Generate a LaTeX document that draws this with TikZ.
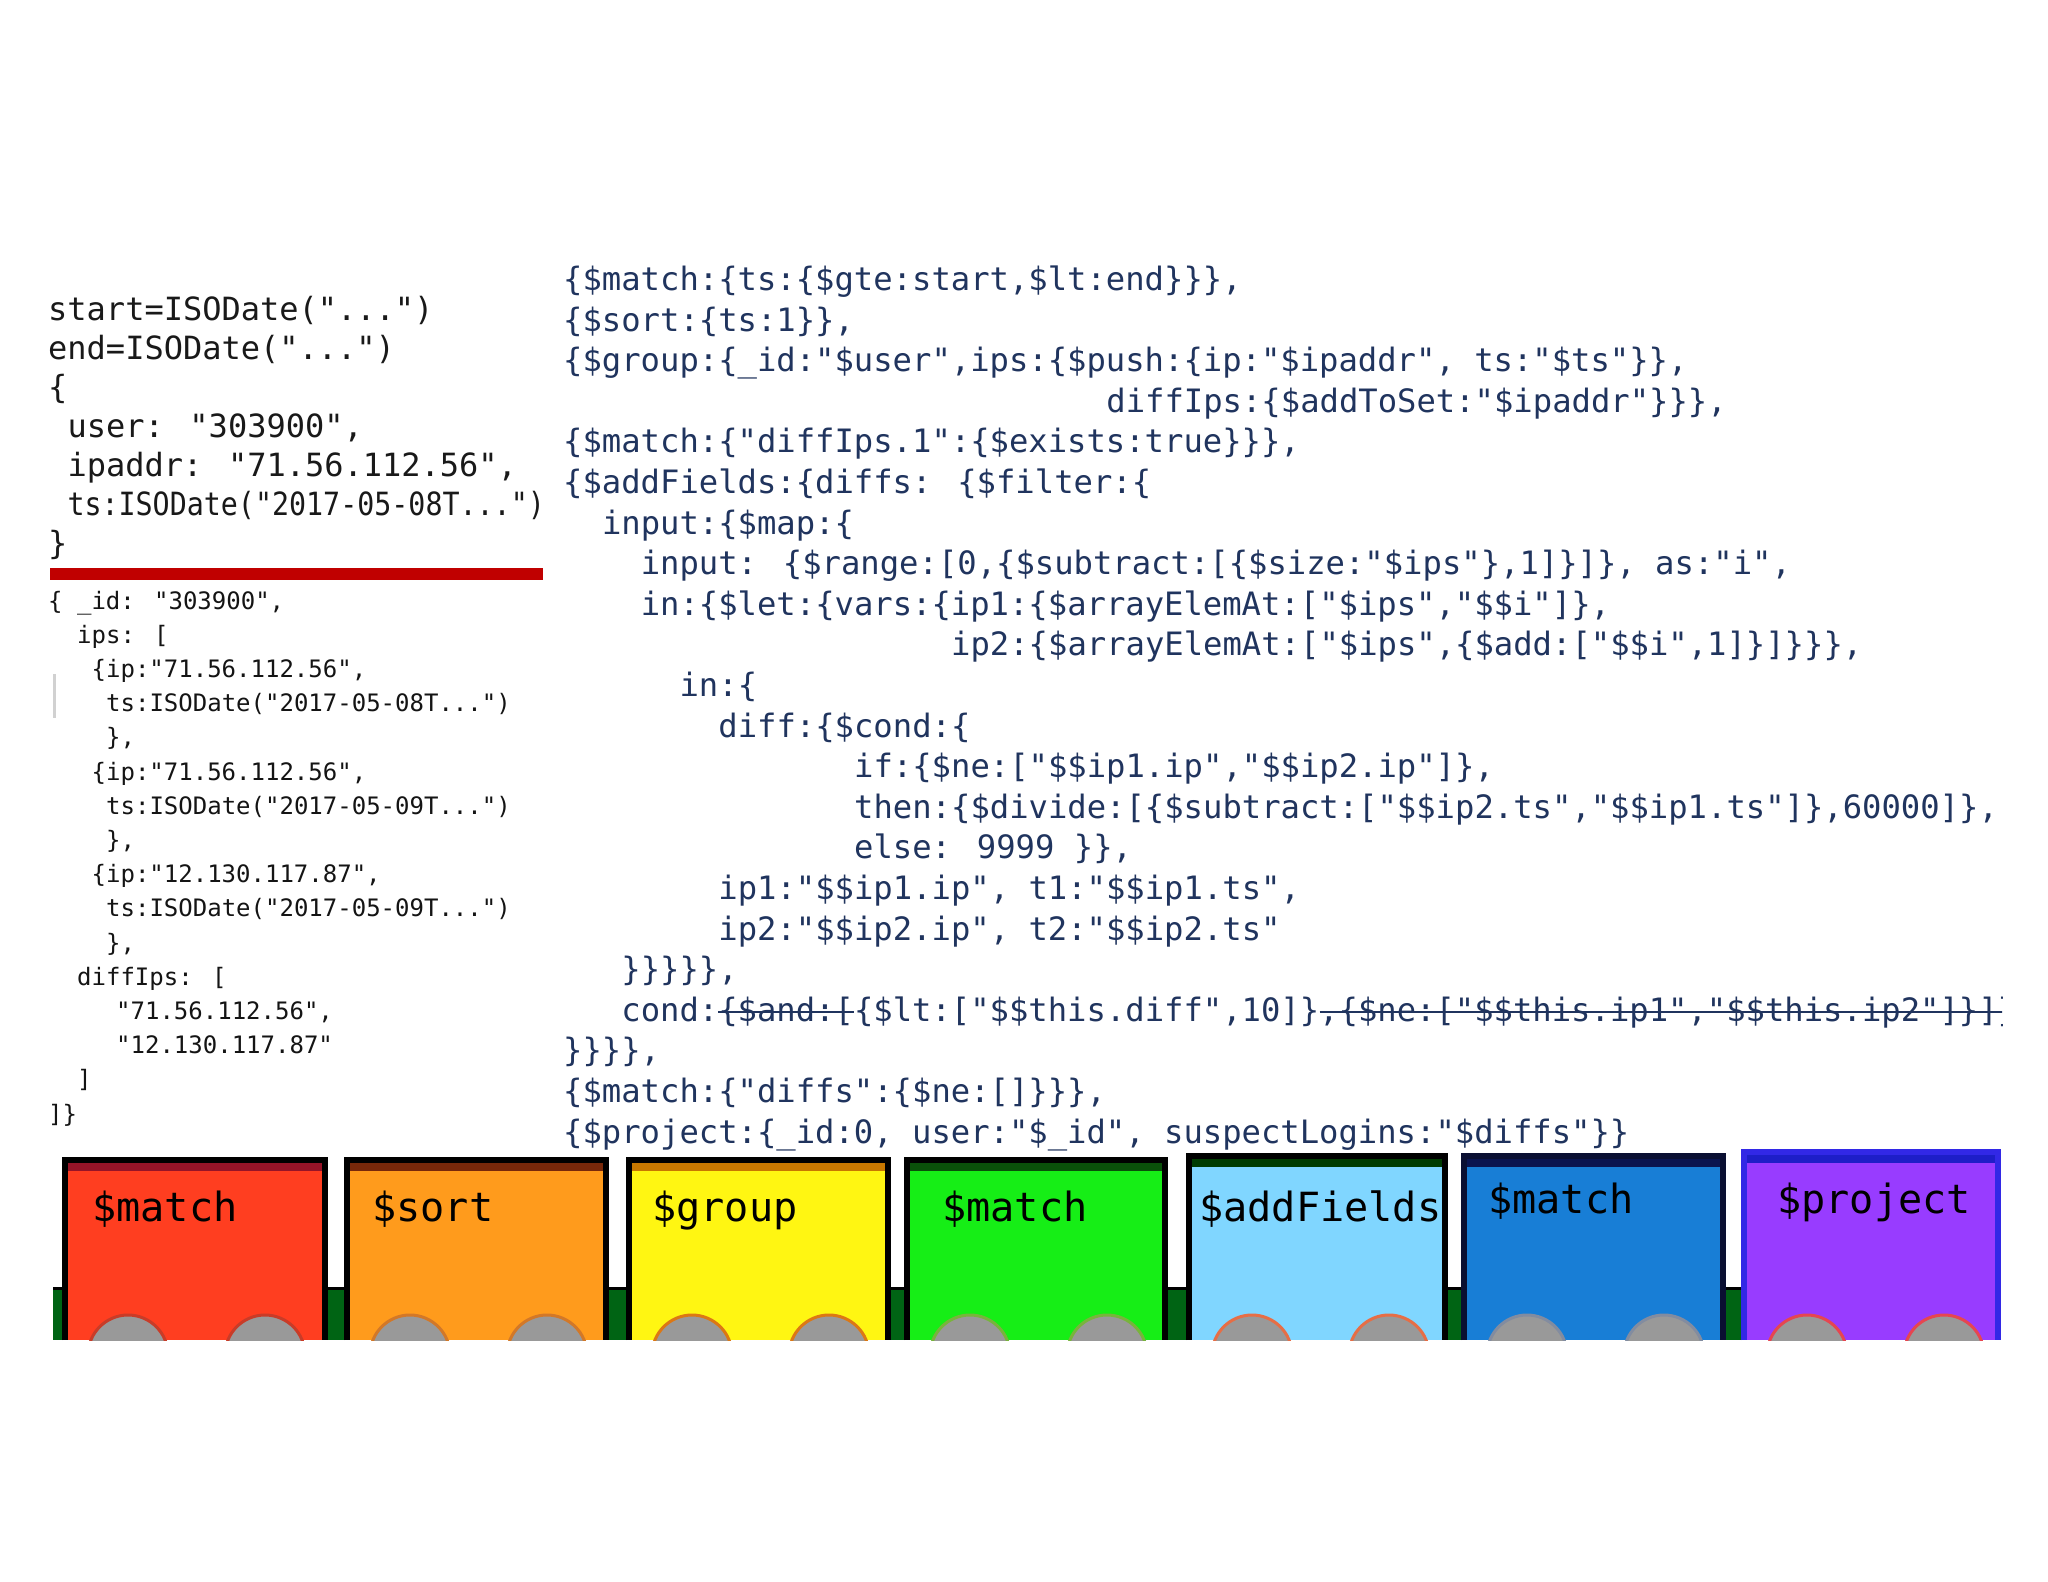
\documentclass[tikz,border=0pt]{standalone}
\usepackage{fontspec}
\usepackage{graphicx}
\newfontfamily\cmono{DejaVu Sans Mono}
\definecolor{codeblue}{RGB}{32,52,94}
\definecolor{barred}{RGB}{192,0,0}
\definecolor{bandgreen}{RGB}{0,100,20}
\definecolor{fA}{RGB}{255,62,32}   \definecolor{tA}{RGB}{150,20,40}  \definecolor{wA}{RGB}{200,60,40}  \definecolor{bA}{RGB}{0,0,0}
\definecolor{fB}{RGB}{255,155,28}  \definecolor{tB}{RGB}{120,40,10}  \definecolor{wB}{RGB}{210,120,40} \definecolor{bB}{RGB}{0,0,0}
\definecolor{fC}{RGB}{255,246,18}  \definecolor{tC}{RGB}{200,120,0}  \definecolor{wC}{RGB}{220,120,20} \definecolor{bC}{RGB}{0,0,0}
\definecolor{fD}{RGB}{22,238,22}   \definecolor{tD}{RGB}{10,80,10}   \definecolor{wD}{RGB}{120,180,60} \definecolor{bD}{RGB}{0,0,0}
\definecolor{fE}{RGB}{128,214,255} \definecolor{tE}{RGB}{0,60,0}     \definecolor{wE}{RGB}{230,110,70} \definecolor{bE}{RGB}{0,0,0}
\definecolor{fF}{RGB}{24,126,214}  \definecolor{tF}{RGB}{10,20,80}   \definecolor{wF}{RGB}{130,140,160} \definecolor{bF}{RGB}{10,15,50}
\definecolor{fG}{RGB}{152,60,255}  \definecolor{tG}{RGB}{30,30,200}  \definecolor{wG}{RGB}{230,70,80}  \definecolor{bG}{RGB}{50,40,230}
\tikzset{
  rc/.style={inner sep=0pt, anchor=base west, text=codeblue, font=\cmono\fontsize{32.2}{40}\selectfont},
  lt/.style={inner sep=0pt, anchor=base west, text=black!90, font=\cmono\fontsize{32}{39}\selectfont},
  lb/.style={inner sep=0pt, anchor=base west, text=black!92, font=\cmono\fontsize{24}{34}\selectfont},
  carlabel/.style={inner sep=0pt, anchor=base west, text=black, font=\cmono\fontsize{40.2}{48}\selectfont},
  strike/.style={draw=codeblue, line width=1.8pt},
}
\newcommand\rcl[4]{\node[rc] (#1) at ({563+#2*19.4},{290.5+(#3-1)*40.6}) {#4};}
\newcommand\lbl[4]{\node[lb] (#1) at (#2,{609+(#3-1)*34.2}) {#4};}
\begin{document}
\begin{tikzpicture}[x=1pt,y=-1pt]
\fill[white] (0,0) rectangle (2048,1582);
\useasboundingbox (0,0) rectangle (2048,1582);

% ---------- left top ----------
\node[lt] (s1) at (48,320) {start=ISODate("...")};
\node[lt] (s2) at (48,359) {end=ISODate("...")};
\node[lt] (s3) at (48,398) {\{};
\node[lt] (s4) at (67.3,437) {user: "303900",};
\node[lt] (s5) at (67.3,476) {ipaddr: "71.56.112.56",};
\node[lt] (s6) at (67.3,515) {\scalebox{0.885}[1]{ts:ISODate("2017-05-08T...")}};
\node[lt] (s7) at (48,554) {\}};
\fill[barred] (50,568) rectangle (543,580);

% ---------- left bottom ----------
\draw[black!18, line width=3pt] (54,674) -- (54,718);
\lbl{b1}{48}{1}{\{ \_id: "303900",}
\lbl{b2}{77}{2}{ips: [}
\lbl{b3}{91.5}{3}{\{ip:"71.56.112.56",}
\lbl{b4}{106}{4}{ts:ISODate("2017-05-08T...")}
\lbl{b5}{106}{5}{\},}
\lbl{b6}{91.5}{6}{\{ip:"71.56.112.56",}
\lbl{b7}{106}{7}{ts:ISODate("2017-05-09T...")}
\lbl{b8}{106}{8}{\},}
\lbl{b9}{91.5}{9}{\{ip:"12.130.117.87",}
\lbl{b10}{106}{10}{ts:ISODate("2017-05-09T...")}
\lbl{b11}{106}{11}{\},}
\lbl{b12}{77}{12}{diffIps: [}
\lbl{b13}{116}{13}{"71.56.112.56",}
\lbl{b14}{116}{14}{"12.130.117.87"}
\lbl{b15}{77}{15}{]}
\lbl{b16}{48}{16}{]\}}

% ---------- right code ----------
\begin{scope}
\clip (540,0) rectangle (2002,1158);
\rcl{r1}{0}{1}{\{\$match:\{ts:\{\$gte:start,\$lt:end\}\}\},}
\rcl{r2}{0}{2}{\{\$sort:\{ts:1\}\},}
\rcl{r3}{0}{3}{\{\$group:\{\_id:"\$user",ips:\{\$push:\{ip:"\$ipaddr", ts:"\$ts"\}\},}
\rcl{r4}{28}{4}{diffIps:\{\$addToSet:"\$ipaddr"\}\}\},}
\rcl{r5}{0}{5}{\{\$match:\{"diffIps.1":\{\$exists:true\}\}\},}
\rcl{r6}{0}{6}{\{\$addFields:\{diffs: \{\$filter:\{}
\rcl{r7}{2}{7}{input:\{\$map:\{}
\rcl{r8}{4}{8}{input: \{\$range:[0,\{\$subtract:[\{\$size:"\$ips"\},1]\}]\}, as:"i",}
\rcl{r9}{4}{9}{in:\{\$let:\{vars:\{ip1:\{\$arrayElemAt:["\$ips","\$\$i"]\},}
\rcl{r10}{20}{10}{ip2:\{\$arrayElemAt:["\$ips",\{\$add:["\$\$i",1]\}]\}\}\},}
\rcl{r11}{6}{11}{in:\{}
\rcl{r12}{8}{12}{diff:\{\$cond:\{}
\rcl{r13}{15}{13}{if:\{\$ne:["\$\$ip1.ip","\$\$ip2.ip"]\},}
\rcl{r14}{15}{14}{then:\{\$divide:[\{\$subtract:["\$\$ip2.ts","\$\$ip1.ts"]\},60000]\},}
\rcl{r15}{15}{15}{else: 9999 \}\},}
\rcl{r16}{8}{16}{ip1:"\$\$ip1.ip", t1:"\$\$ip1.ts",}
\rcl{r17}{8}{17}{ip2:"\$\$ip2.ip", t2:"\$\$ip2.ts"}
\rcl{r18}{3}{18}{\}\}\}\}\},}
\rcl{r19}{3}{19}{cond:\{\$and:[\{\$lt:["\$\$this.diff",10]\},\{\$ne:["\$\$this.ip1","\$\$this.ip2"]\}]\}}
\rcl{r20}{0}{20}{\}\}\}\},}
\rcl{r21}{0}{21}{\{\$match:\{"diffs":\{\$ne:[]\}\}\},}
\rcl{r22}{0}{22}{\{\$project:\{\_id:0, user:"\$\_id", suspectLogins:"\$diffs"\}\}}
\path[strike] ({563+8*19.4},1012) -- ({563+15*19.4},1012);
\path[strike] ({563+39*19.4},1012) -- (2010,1012);
\end{scope}

% ---------- train ----------
\fill[bandgreen] (53,1288) rectangle (1998,1340);
\draw[black, line width=3pt] (53,1288) -- (1998,1288);
\foreach \k/\xl/\xr/\tp/\lab/\lx/\ly in {
  A/65/325/1160/{\$match}/92/1221,
  B/347/606/1160/{\$sort}/372/1221,
  C/629/888/1160/{\$group}/652/1221,
  D/907/1165/1160/{\$match}/942/1221,
  E/1189/1445/1156/{\$addFields}/1199/1221,
  F/1464/1723/1156/{\$match}/1488/1213,
  G/1744/1998/1152/{\$project}/1777/1213}{
  \fill[f\k] (\xl,\tp) rectangle (\xr,1340);
  \fill[t\k] (\xl,\tp) rectangle (\xr,\tp+11);
  \begin{scope}
    \clip (\xl,\tp) rectangle (\xr,1340);
    \draw[draw=w\k, fill=black!40, line width=3pt] (\xl+63,1355) circle[radius=40pt];
    \draw[draw=w\k, fill=black!40, line width=3pt] (\xl+200,1355) circle[radius=40pt];
  \end{scope}
  \draw[b\k, line width=6pt] (\xl,1340) -- (\xl,\tp) -- (\xr,\tp) -- (\xr,1340);
  \node[carlabel] (car\k) at (\lx,\ly) {\lab};
}
\end{tikzpicture}
\end{document}
